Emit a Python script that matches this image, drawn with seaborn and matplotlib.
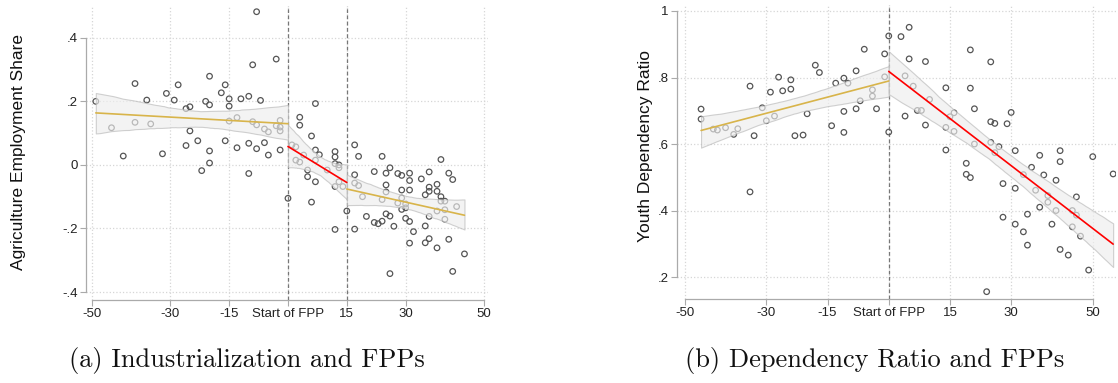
import numpy as np
import matplotlib
matplotlib.use('Agg')
import matplotlib.pyplot as plt
import seaborn as sns

sns.set_style('white')
plt.rcParams['font.family'] = ['Liberation Sans', 'DejaVu Sans']

# ---- panel (a): agriculture employment share ----
agri_x = [-49, -45, -42, -39, -39, -36, -35, -32, -31, -29, -28, -26, -25, -26, -25, -23, -21, -20, -20, -20,
          -17, -16, -16, -15, -15, -15, -13, -13, -12, -10, -10, -9, -9, -8, -8, -8, -7, -6, -6, -5,
          -5, -3, -3, -2, -2, -2, -2, -22, -20, -10, 0,
          7, 3, 3, 6, 1, 2, 7, 8, 12, 12, 2, 3, 4, 7, 5, 5, 7, 6, 10,
          12, 13, 13, 12, 13, 14, 12, 15,
          17, 18, 24, 39, 17, 17, 18, 19, 17, 20, 22, 22, 23, 24, 24, 25, 25, 25, 25, 26,
          26, 26, 27, 28, 28, 29, 29, 29, 29, 30, 30, 30, 31, 31, 31, 31, 31, 32, 34, 35,
          35, 35, 36, 36, 36, 36, 36, 38, 38, 38, 38, 39, 39, 40, 40, 40, 41, 41, 42, 42,
          43, 45]
agri_y = [.200, .117, .028, .256, .134, .204, .129, .035, .225, .204, .252, .177, .183, .061, .107, .076, .200, .279, .189, .044,
          .227, .252, .076, .208, .185, .138, .149, .054, .208, .216, .068, .315, .136, .482, .126, .051, .203, .113, .070, .104,
          .031, .333, .123, .140, .119, .107, .047, -.018, .006, -.027, -.105,
          .193, .150, .125, .091, .063, .057, .047, .032, .042, .025, .015, .009, .031, .015, -.016, -.037, -.053, -.117, -.016,
          .004, .000, -.009, -.068, -.053, -.068, -.203, -.145,
          .063, .027, .027, .017, -.031, -.057, -.065, -.100, -.202, -.162, -.021, -.181, -.185, -.109, -.177, -.026, -.063, -.085, -.154, -.009,
          -.161, -.342, -.193, -.027, -.120, -.033, -.079, -.104, -.140, -.123, -.135, -.168, -.026, -.049, -.079, -.178, -.246, -.210, -.044, -.094,
          -.192, -.245, -.022, -.070, -.083, -.162, -.232, -.061, -.083, -.145, -.261, -.100, -.114, -.114, -.141, -.171, -.026, -.234, -.046, -.335,
          -.131, -.280]

# ---- panel (b): youth dependency ratio ----
dep_x = [-46, -46, -43, -42, -40, -38, -37, -34, -33, -31, -30, -29, -28, -27, -26, -24, -24, -23, -21, -20,
         -18, -17, -14, -13, -11, -11, -11, -10, -8, -8, -7, -6, -4, -4, -3, -1, -1, 0, 0, -34,
         3, 5, 5, 4, 4, 6, 7, 8, 9, 9, 10, 14, 14, 14, 15, 16, 16, 20, 20, 21,
         21, 25, 25, 26, 25, 27, 26, 29, 30, 31, 37, 42, 50, 19, 19, 20, 28, 28, 31, 31,
         33, 33, 34, 34, 35, 36, 37, 38, 39, 39, 40, 41, 41, 42, 42, 44, 45, 45, 46, 46,
         47, 49, 55, 24]
dep_y = [.705, .675, .645, .642, .649, .629, .646, .774, .625, .709, .670, .756, .684, .801, .760, .793, .765, .625, .627, .691,
         .837, .815, .655, .783, .798, .698, .635, .783, .820, .706, .730, .885, .763, .744, .706, .871, .802, .925, .636, .456,
         .923, .951, .856, .805, .684, .774, .701, .701, .848, .657, .734, .769, .650, .582, .682, .694, .638, .883, .768, .706,
         .600, .847, .667, .662, .605, .592, .574, .661, .695, .580, .566, .580, .562, .542, .509, .499, .481, .380, .467, .359,
         .508, .336, .389, .296, .530, .461, .410, .507, .445, .425, .359, .491, .400, .547, .283, .266, .400, .351, .441, .386,
         .323, .221, .510, .156]

x_ticks = [-50, -30, -15, 0, 15, 30, 50]
x_labels = ['-50', '-30', '-15', 'Start of FPP', '15', '30', '50']
agri_ticks = [-.4, -.2, 0, .2, .4]
agri_labels = ['-.4', '-.2', '0', '.2', '.4']
dep_ticks = [.2, .4, .6, .8, 1]
dep_labels = ['.2', '.4', '.6', '.8', '1']

agri_breaks = [(-99, 0, 'gold'), (0, 15, 'red'), (15, 99, 'gold')]
dep_breaks = [(-99, 0, 'gold'), (0, 99, 'red')]

GOLD = '#d8b44a'
RED = '#ff0000'
colors = {'gold': GOLD, 'red': RED}

W, H = 1118, 383
fig = plt.figure(figsize=(W / 100, H / 100), dpi=100)


def px_axes(left, right, top, bottom):
    return fig.add_axes([left / W, 1 - bottom / H, (right - left) / W, (bottom - top) / H])


def panel(ax, xs, ys, breaks, vlines, yticks, ylabels):
    xs = np.array(xs, float)
    ys = np.array(ys, float)
    sns.scatterplot(x=xs, y=ys, ax=ax, marker='o', s=16, facecolor='none',
                    edgecolor='#555555', linewidth=0.9, zorder=2)
    for lo, hi, c in breaks:
        m = (xs >= lo) & (xs <= hi)
        sns.regplot(x=xs[m], y=ys[m], ax=ax, scatter=False, ci=95, seed=1,
                    color=colors[c], line_kws=dict(lw=1.2, zorder=5))
        band = ax.collections[-1]
        band.set_facecolor('#eeeeee')
        band.set_alpha(0.65)
        band.set_edgecolor('#b8b8b8')
        band.set_linewidth(0.8)
        band.set_zorder(3)
    for v in vlines:
        ax.axvline(v, color='#777777', ls=(0, (3, 2)), lw=0.9, zorder=1)
    ax.set_xticks(x_ticks)
    ax.set_xticklabels(x_labels)
    ax.set_yticks(yticks)
    ax.set_yticklabels(ylabels)
    ax.grid(True, ls=':', color='#d6d6d6', lw=0.9)
    ax.set_axisbelow(True)
    for s in ['top', 'right']:
        ax.spines[s].set_visible(False)
    for s in ['left', 'bottom']:
        ax.spines[s].set_color('#aaaaaa')
        ax.spines[s].set_linewidth(0.9)
    ax.spines['bottom'].set_bounds(-50, 50)
    ax.spines['left'].set_bounds(yticks[0], yticks[-1])
    ax.tick_params(axis='both', length=4, width=0.8, color='#aaaaaa',
                   labelsize=9.5, labelcolor='#222222', pad=2, direction='out',
                   bottom=True, left=True)
    ax.set_xlabel('')
    ax.set_ylabel('')


ax1 = px_axes(86, 488, 6, 300)
panel(ax1, agri_x, agri_y, agri_breaks, [0, 15], agri_ticks, agri_labels)
ax1.set_xlim(-51.5, 51)
ax1.set_ylim(-0.425, 0.5)

ax2 = px_axes(677, 1116, 5, 299)
panel(ax2, dep_x, dep_y, dep_breaks, [0], dep_ticks, dep_labels)
ax2.set_xlim(-51.9, 55.7)
ax2.set_ylim(0.134, 1.018)

fig.text(19 / W, 1 - 152 / H, 'Agriculture Employment Share', rotation=90,
         ha='center', va='center', fontsize=12.5, color='#111111')
fig.text(645.5 / W, 1 - 146.5 / H, 'Youth Dependency Ratio', rotation=90,
         ha='center', va='center', fontsize=12.5, color='#111111')

fig.text(247 / W, 1 - 361 / H, '(a) Industrialization and FPPs', ha='center', va='center',
         fontsize=19, family='cmr10', color='#111111')
fig.text(875 / W, 1 - 361 / H, '(b) Dependency Ratio and FPPs', ha='center', va='center',
         fontsize=19, family='cmr10', color='#111111')

fig.savefig('out.png', dpi=100)
